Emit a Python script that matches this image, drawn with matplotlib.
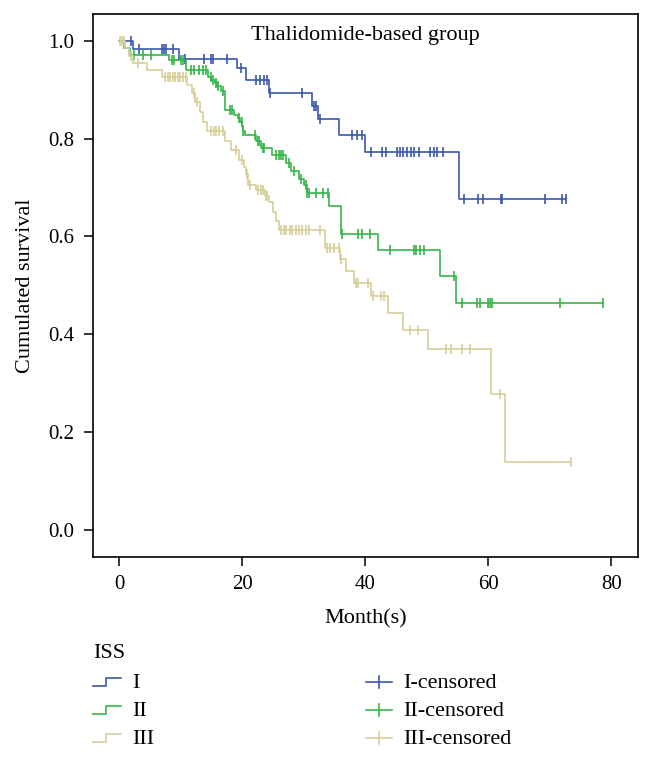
import numpy as np
import matplotlib
matplotlib.use('Agg')
import matplotlib.pyplot as plt
from matplotlib.lines import Line2D

plt.rcParams['font.family'] = ['Liberation Serif', 'DejaVu Serif']

# ISS I: drop times (months) and survival level after each drop
time_I = [0, 2.2, 9.8, 19.2, 20.6, 24.4, 31.4, 32.3, 35.8, 40.0, 55.2]
surv_I = [1.0, 0.983, 0.963, 0.944, 0.919, 0.894, 0.866, 0.840, 0.808, 0.773, 0.676]
end_I = 72.6
cens_I = [2.0, 3.3, 6.9, 7.3, 7.6, 8.8, 10.7, 13.8, 15.0, 15.3, 17.5, 19.8, 22.2, 22.9,
          23.6, 24.1, 24.6, 29.8, 31.7, 32.0, 32.7, 37.8, 38.6, 39.4, 40.9, 42.8, 43.3,
          45.2, 45.7, 46.2, 46.8, 47.4, 48.0, 48.7, 50.6, 51.1, 51.7, 52.6, 56.1, 58.4,
          59.1, 62.0, 62.2, 69.2, 72.0, 72.6]

# ISS II
time_II = [0, 0.8, 1.8, 8.1, 10.9, 14.4, 15.0, 15.5, 15.9, 16.5, 17.2, 18.6, 19.3, 19.7,
           20.0, 20.2, 20.4, 22.3, 23.0, 24.8, 27.1, 28.0, 29.2, 30.0, 30.5, 34.1, 36.0,
           42.1, 52.1, 54.7]
surv_II = [1.0, 0.985, 0.971, 0.961, 0.941, 0.927, 0.920, 0.914, 0.907, 0.897, 0.859,
           0.849, 0.842, 0.835, 0.825, 0.815, 0.808, 0.795, 0.781, 0.767, 0.750, 0.733,
           0.718, 0.706, 0.689, 0.662, 0.606, 0.572, 0.520, 0.463]
end_II = 78.6
cens_II = [2.4, 3.8, 5.2, 8.6, 8.9, 10.0, 10.3, 11.7, 12.2, 13.0, 13.6, 14.1, 14.9, 15.3,
           15.7, 16.1, 16.9, 18.0, 18.4, 19.5, 19.9, 20.2, 22.1, 22.5, 22.7, 23.3, 23.6,
           25.5, 26.0, 26.3, 26.6, 27.6, 28.5, 29.5, 30.4, 30.6, 30.9, 32.0, 33.1, 33.9,
           36.3, 38.9, 39.5, 40.8, 44.0, 48.0, 48.3, 48.9, 49.6, 54.5, 55.8, 58.1, 58.6,
           59.9, 60.2, 60.6, 71.7, 78.6]

# ISS III
time_III = [0, 1.0, 1.6, 2.3, 4.5, 7.0, 11.1, 11.8, 12.4, 13.2, 13.7, 14.3, 17.2, 18.2,
            19.5, 20.3, 20.6, 21.0, 22.3, 23.7, 24.3, 25.0, 25.5, 26.0, 33.5, 35.9, 36.8,
            38.1, 41.0, 43.7, 46.2, 50.2, 60.4, 62.7]
surv_III = [1.0, 0.985, 0.970, 0.955, 0.940, 0.926, 0.910, 0.893, 0.875, 0.855, 0.835,
            0.815, 0.795, 0.776, 0.757, 0.742, 0.727, 0.706, 0.694, 0.683, 0.670, 0.650,
            0.632, 0.613, 0.576, 0.553, 0.529, 0.505, 0.478, 0.443, 0.409, 0.369, 0.277,
            0.139]
end_III = 73.5
cens_III = [0.2, 0.5, 0.8, 1.9, 3.1, 7.5, 7.9, 8.3, 8.7, 9.1, 9.5, 9.9, 10.3, 10.8, 12.1,
            12.7, 15.0, 15.4, 15.8, 16.3, 16.8, 19.0, 20.0, 20.8, 21.3, 22.5, 23.0, 23.3,
            23.8, 24.1, 26.3, 26.8, 27.2, 27.7, 28.1, 28.7, 29.2, 29.7, 30.3, 30.9, 32.7,
            33.8, 34.3, 35.0, 35.8, 36.0, 38.5, 38.9, 40.5, 41.3, 42.5, 43.1, 47.2, 48.5,
            53.1, 53.9, 55.8, 57.0, 61.9, 73.5]

groups = ['I', 'II', 'III']
colors = ['#3b58aa', '#36b54a', '#d6ce98']
xticks = [0, 20, 40, 60, 80]
yticks = [0.0, 0.2, 0.4, 0.6, 0.8, 1.0]

W, H = 648, 758


def fx(px):
    return px / W


def fy(py):
    return 1 - py / H


def plot_km(ax, times, surv, end, cens, color):
    t = np.append(times, end)
    s = np.append(surv, surv[-1])
    ax.step(t, s, where='post', color=color, lw=1.2)
    idx = np.searchsorted(times, cens, side='right') - 1
    ax.plot(cens, np.array(surv)[idx], ls='none', marker='|', ms=7, mew=1.2, color=color)


fig = plt.figure(figsize=(6.48, 7.58), dpi=100)
ax = fig.add_axes([fx(92.7), fy(556.7), fx(638.4) - fx(92.7), fy(14) - fy(556.7)])

plot_km(ax, time_I, surv_I, end_I, cens_I, colors[0])
plot_km(ax, time_II, surv_II, end_II, cens_II, colors[1])
plot_km(ax, time_III, surv_III, end_III, cens_III, colors[2])

ax.set_xlim(-4.3, 84.4)
ax.set_ylim(-0.055, 1.055)
ax.set_xticks(xticks)
ax.set_yticks(yticks)
ax.set_yticklabels(['%.1f' % v for v in yticks])
ax.tick_params(direction='out', length=6.5, width=1.1, pad=7, labelsize=15)
for sp in ax.spines.values():
    sp.set_linewidth(1.2)

ax.text(0.5, 0.96, 'Thalidomide-based group', transform=ax.transAxes,
        ha='center', va='center', fontsize=16)
ax.set_xlabel('Month(s)', fontsize=16)
ax.xaxis.set_label_coords(0.5, -0.097)
ax.set_ylabel('Cumulated survival', fontsize=16)
ax.yaxis.set_label_coords(-0.124, 0.5)
ax.yaxis.label.set_va('center')

# legend drawn by hand: step glyphs for curves, crosses for censored marks
fig.text(fx(93), fy(654), 'ISS', fontsize=16, ha='left', va='center')
rows = [684, 712, 740]
for g, c, r in zip(groups, colors, rows):
    fig.add_artist(Line2D([fx(93), fx(106), fx(106), fx(121)],
                          [fy(r + 2), fy(r + 2), fy(r - 6), fy(r - 6)],
                          color=c, lw=1.2, transform=fig.transFigure))
    fig.text(fx(132), fy(r), g, fontsize=16, ha='left', va='center')
    fig.add_artist(Line2D([fx(366), fx(392)], [fy(r - 2), fy(r - 2)],
                          color=c, lw=1.2, transform=fig.transFigure))
    fig.add_artist(Line2D([fx(379), fx(379)], [fy(r - 8), fy(r + 4)],
                          color=c, lw=1.2, transform=fig.transFigure))
    fig.text(fx(403), fy(r), g + '-censored', fontsize=16, ha='left', va='center')

plt.savefig('out.png', dpi=100)
plt.close()
